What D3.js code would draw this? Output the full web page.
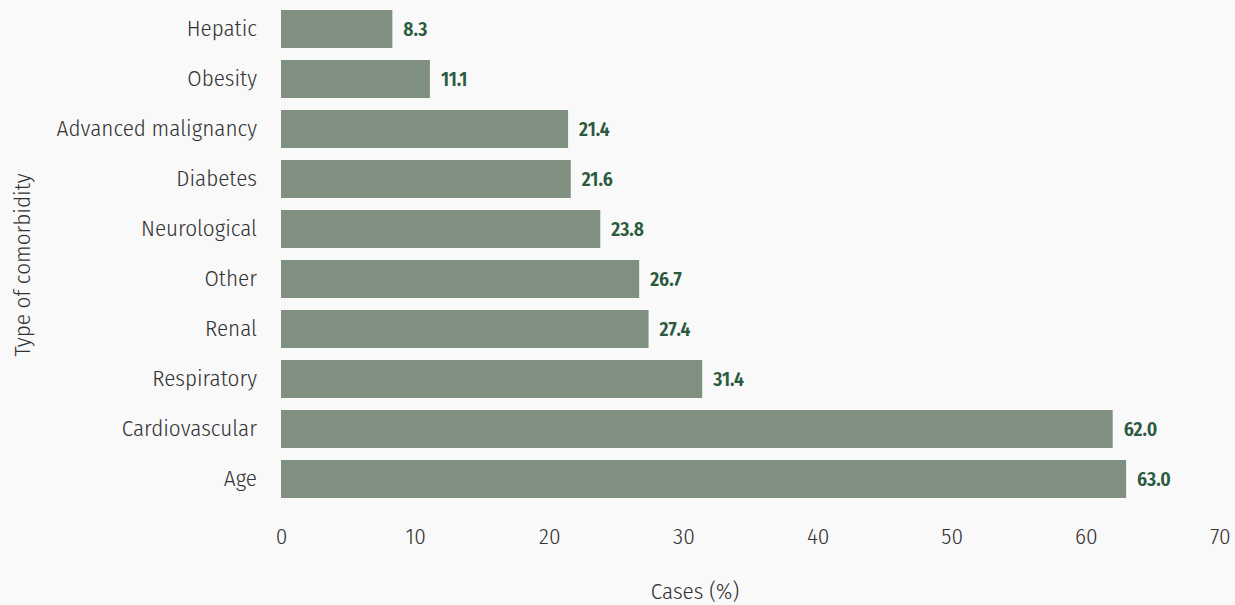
<!DOCTYPE html>
<html>
<head>
<meta charset="utf-8">
<script src="https://cdn.jsdelivr.net/npm/d3@7"></script>
<style>
  html, body { margin: 0; padding: 0; background: #f9f9f9; }
  svg { display: block; font-family: "Fira Sans Condensed", "Fira Sans", "Noto Sans", sans-serif; }
</style>
</head>
<body>
<svg id="chart" width="1235" height="605"></svg>
<script>
// Share of cases with each comorbidity (%)
const categories = ["Hepatic", "Obesity", "Advanced malignancy", "Diabetes", "Neurological",
                    "Other", "Renal", "Respiratory", "Cardiovascular", "Age"];
const values = [8.3, 11.1, 21.4, 21.6, 23.8, 26.7, 27.4, 31.4, 62.0, 63.0];
const xTicks = [0, 10, 20, 30, 40, 50, 60, 70];

const svg = d3.select("#chart");

const x = d3.scaleLinear().domain([0, 70]).range([281, 1220]);
const y = d3.scaleBand().domain(categories).range([4, 504]).paddingInner(0.24).paddingOuter(0.12);

// bars
svg.append("g").selectAll("rect")
  .data(values)
  .join("rect")
  .attr("x", x(0))
  .attr("y", (d, i) => y(categories[i]))
  .attr("width", d => x(d) - x(0))
  .attr("height", y.bandwidth())
  .attr("fill", "#7f8f80");

// value labels
svg.append("g").selectAll("text")
  .data(values)
  .join("text")
  .attr("x", d => x(d) + 11)
  .attr("y", (d, i) => y(categories[i]) + y.bandwidth() / 2)
  .attr("dy", "0.35em")
  .attr("font-size", 19.5)
  .attr("font-weight", 600)
  .attr("fill", "#2b5a3e")
  .text(d => d.toFixed(1));

// y axis (category labels)
const yAxis = svg.append("g")
  .attr("transform", `translate(${x(0)},0)`)
  .call(d3.axisLeft(y).tickSize(0).tickPadding(24));
yAxis.attr("font-family", null).attr("font-size", null);
yAxis.select(".domain").remove();
yAxis.selectAll("text").attr("font-size", 23).attr("font-weight", 300).attr("fill", "#333");

// x axis
const xAxis = svg.append("g")
  .attr("transform", "translate(0,520)")
  .call(d3.axisBottom(x).tickValues(xTicks).tickFormat(d3.format("d")).tickSize(0).tickPadding(8));
xAxis.attr("font-family", null).attr("font-size", null);
xAxis.select(".domain").remove();
xAxis.selectAll("text").attr("font-size", 23).attr("font-weight", 300).attr("fill", "#333");

// axis titles
svg.append("text")
  .attr("x", 695)
  .attr("y", 599)
  .attr("text-anchor", "middle")
  .attr("font-size", 23)
  .attr("font-weight", 300)
  .attr("fill", "#333")
  .text("Cases (%)");

svg.append("text")
  .attr("transform", `translate(29.5,${(y.range()[0] + y.range()[1]) / 2 + 11}) rotate(-90)`)
  .attr("text-anchor", "middle")
  .attr("font-size", 23)
  .attr("font-weight", 300)
  .attr("fill", "#333")
  .text("Type of comorbidity");
</script>
</body>
</html>
